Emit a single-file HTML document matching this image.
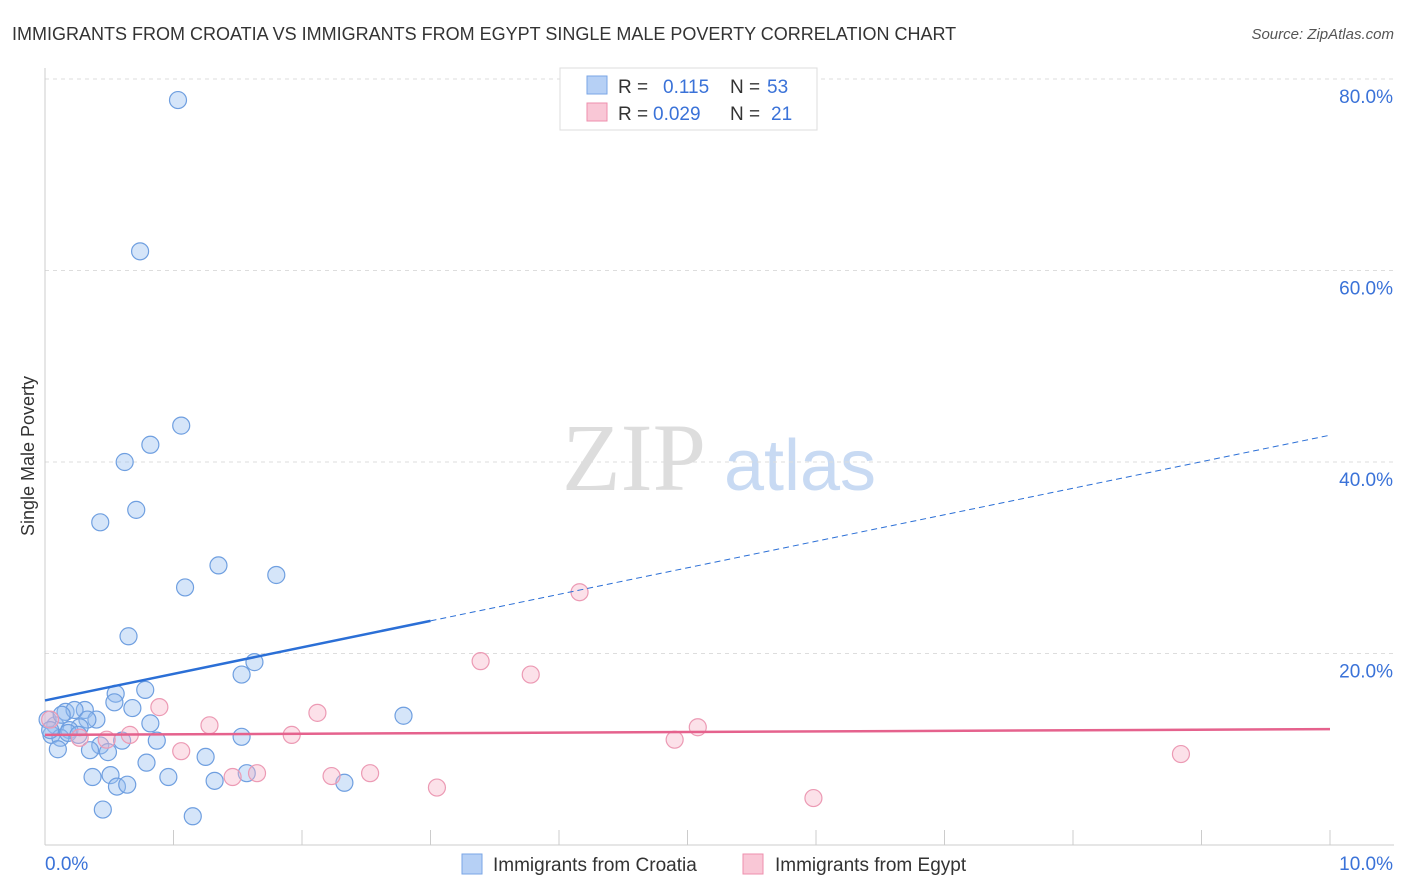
<!DOCTYPE html>
<html><head><meta charset="utf-8">
<style>
body{margin:0;background:#fff;font-family:"Liberation Sans",sans-serif;}
svg{display:block}
</style></head>
<body>
<svg id="chart" width="1406" height="892" xmlns="http://www.w3.org/2000/svg">
<text x="12" y="40" font-size="18" fill="#333">IMMIGRANTS FROM CROATIA VS IMMIGRANTS FROM EGYPT SINGLE MALE POVERTY CORRELATION CHART</text>
<text x="1394" y="39" font-size="15" fill="#555" font-style="italic" text-anchor="end">Source: ZipAtlas.com</text>
<text x="634" y="490" font-size="96" fill="#ddd" font-family="Liberation Serif,serif" text-anchor="middle">ZIP</text>
<text x="800" y="490" font-size="72" fill="#c8daf3" text-anchor="middle">atlas</text>
<text transform="translate(34,456) rotate(-90)" font-size="18" fill="#333" text-anchor="middle">Single Male Poverty</text>
<g id="grid"></g>
<g id="axes"></g>
<g id="points"></g>
<g id="trends"></g>
<g>
<rect x="560" y="68" width="257" height="62" fill="#fff" stroke="#ddd"/>
<rect x="587" y="76" width="20" height="18" fill="#b6d0f5" stroke="#7aa6e6"/>
<text x="618" y="93" font-size="19" fill="#333">R =</text>
<text x="663" y="93" font-size="19" fill="#3a72d8">0.115</text>
<text x="730" y="93" font-size="19" fill="#333">N =</text>
<text x="767" y="93" font-size="19" fill="#3a72d8">53</text>
<rect x="587" y="103" width="20" height="18" fill="#f9c7d6" stroke="#ee8fad"/>
<text x="618" y="120" font-size="19" fill="#333">R =</text>
<text x="653" y="120" font-size="19" fill="#3a72d8">0.029</text>
<text x="730" y="120" font-size="19" fill="#333">N =</text>
<text x="771" y="120" font-size="19" fill="#3a72d8">21</text>
</g>
<g>
<rect x="462" y="854" width="20" height="20" fill="#b6d0f5" stroke="#7aa6e6"/>
<text x="493" y="871" font-size="19" fill="#333">Immigrants from Croatia</text>
<rect x="743" y="854" width="20" height="20" fill="#f9c7d6" stroke="#ee8fad"/>
<text x="775" y="871" font-size="19" fill="#333">Immigrants from Egypt</text>
</g>
</svg>
<script>
const NS="http://www.w3.org/2000/svg";
const yTicks=[20,40,60,80];
const yTickLabels=["20.0%","40.0%","60.0%","80.0%"];
const xTickLabels=["0.0%","10.0%"];
const croatiaX=[1.035,0.74,1.06,0.82,0.62,0.71,0.43,1.35,1.80,1.09,0.65,1.63,1.53,0.78,0.55,0.54,0.68,0.31,0.16,0.23,0.40,0.33,0.82,2.79,0.08,0.27,0.19,0.05,0.12,0.87,0.60,1.53,0.43,0.35,0.10,0.49,1.25,0.79,0.37,0.51,0.96,1.32,1.57,0.56,0.64,2.33,0.45,1.15,0.02,0.04,0.18,0.13,0.26];
const croatiaY=[77.8,62.0,43.8,41.8,40.0,35.0,33.7,29.2,28.2,26.9,21.8,19.1,17.8,16.2,15.8,14.9,14.3,14.1,13.9,14.1,13.1,13.1,12.7,13.5,12.5,12.3,12.0,11.5,11.2,10.9,10.9,11.3,10.4,9.9,10.0,9.7,9.2,8.6,7.1,7.3,7.1,6.7,7.5,6.1,6.3,6.5,3.7,3.0,13.1,12.0,11.7,13.6,11.5];
const egyptX=[4.16,3.39,3.78,0.89,2.12,1.28,5.08,1.92,0.66,0.48,0.27,4.90,1.06,8.84,1.65,1.46,2.23,2.53,3.05,5.98,0.04];
const egyptY=[26.4,19.2,17.8,14.4,13.8,12.5,12.3,11.5,11.5,11.0,11.2,11.0,9.8,9.5,7.5,7.1,7.2,7.5,6.0,4.9,13.1];
const croatiaTrend=[15.1,42.8];
const egyptTrend=[11.5,12.1];
const X0=45,X1=1330,Y0=845,PPU=9.575;
const sx=v=>X0+(X1-X0)*v/10;
const sy=v=>Y0-v*PPU;
function mk(tag,attrs,parent){const e=document.createElementNS(NS,tag);for(const k in attrs)e.setAttribute(k,attrs[k]);parent.appendChild(e);return e;}
const grid=document.getElementById('grid'),axes=document.getElementById('axes');
yTicks.forEach((t,i)=>{
 const l=mk('line',{x1:X0,x2:1394,y1:sy(t),y2:sy(t),stroke:'#ddd','stroke-dasharray':'4,4'},grid);
 
 
 const tx=mk('text',{x:1393,y:sy(t)+24,'font-size':19,fill:'#3a72d8','text-anchor':'end'},axes);
 tx.textContent=yTickLabels[i];
 
 
});
const ax=mk('line',{x1:X0,x2:X0,y1:68,y2:Y0,stroke:'#ccc'},axes);


const bx=mk('line',{x1:X0,x2:1394,y1:Y0,y2:Y0,stroke:'#ccc'},axes);


for(let i=0;i<=10;i++){
 const t=mk('line',{x1:sx(i),x2:sx(i),y1:830,y2:Y0,stroke:'#ccc'},axes);
 
 
}
[[0,'start',45],[10,'end',1393]].forEach((d,i)=>{
 const t=mk('text',{x:d[2],y:870,'font-size':19,fill:'#3a72d8','text-anchor':d[1]},axes);
 t.textContent=xTickLabels[i];
 
 
});
const pts=document.getElementById('points');
croatiaX.forEach((x,i)=>{
 const c=mk('circle',{cx:sx(x),cy:sy(croatiaY[i]),r:8.5,fill:'rgba(150,190,240,0.4)',stroke:'#6f9fe0','stroke-width':1.2},pts);
 
 
});
egyptX.forEach((x,i)=>{
 const c=mk('circle',{cx:sx(x),cy:sy(egyptY[i]),r:8.5,fill:'rgba(248,180,200,0.4)',stroke:'#ec9ab4','stroke-width':1.2},pts);
 
 
});
const tr=document.getElementById('trends');
const cy=x=>croatiaTrend[0]+(croatiaTrend[1]-croatiaTrend[0])*x/10;
const l1=mk('line',{x1:sx(0),y1:sy(cy(0)),x2:sx(3),y2:sy(cy(3)),stroke:'#2b6fd6','stroke-width':2.5},tr);


const l2=mk('line',{x1:sx(3),y1:sy(cy(3)),x2:sx(10),y2:sy(cy(10)),stroke:'#2b6fd6','stroke-width':1,'stroke-dasharray':'6,4'},tr);


const l3=mk('line',{x1:sx(0),y1:sy(egyptTrend[0]),x2:sx(10),y2:sy(egyptTrend[1]),stroke:'#e5628d','stroke-width':2.5},tr);


</script>
</body></html>
